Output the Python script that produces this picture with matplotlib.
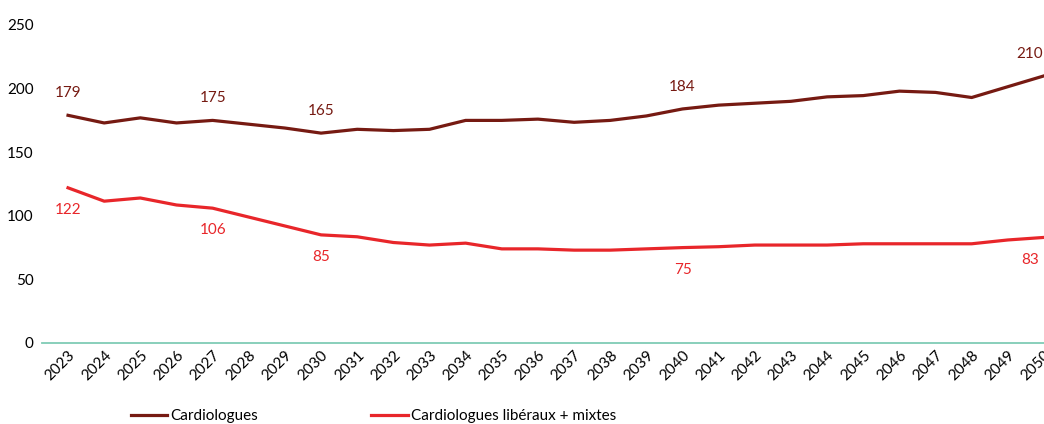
import matplotlib
matplotlib.use("Agg")
import matplotlib.pyplot as plt

years = list(range(2023, 2051))
cardiologues = [179, 173, 177, 173, 175, 172, 169, 165, 168, 167, 168, 175, 175, 176, 173.5, 175,
                178.5, 184, 187, 188.5, 190, 193.5, 194.5, 198, 197, 193, 201.5, 210]
liberaux = [122, 111.5, 114, 108.5, 106, 99, 92, 85, 83.5, 79, 77, 78.5, 74, 74, 73, 73,
            74, 75, 75.7, 77, 77, 77, 78, 78, 78, 78, 81, 83]
labeled_years = [2023, 2027, 2030, 2040, 2050]
yticks = [0, 50, 100, 150, 200, 250]

dark = "#761A12"
red = "#E8262A"
axis_col = "#7FCCB5"

plt.rcParams['font.family'] = ['Lato', 'DejaVu Sans']

W, H = 1044, 424
fig = plt.figure(figsize=(W / 100, H / 100), dpi=100)
left_px, right_px = 42, 1070
bottom_px, top_px = 343, 25
ax = fig.add_axes([left_px / W, 1 - bottom_px / H, (right_px - left_px) / W, (bottom_px - top_px) / H])
ax.set_xlim(2022.28, 2050.72)
ax.set_ylim(0, 250)

l1, = ax.plot(years, cardiologues, color=dark, lw=2.3, solid_joinstyle='round', clip_on=False)
l2, = ax.plot(years, liberaux, color=red, lw=2.3, solid_joinstyle='round', clip_on=False)

for y in labeled_years:
    i = years.index(y)
    dx = -10 if y == years[-1] else 0
    ax.annotate(f"{round(cardiologues[i])}", (y, cardiologues[i]), xytext=(dx, 16), textcoords='offset points',
                ha='center', va='center', color=dark, fontsize=11, annotation_clip=False)
    ax.annotate(f"{round(liberaux[i])}", (y, liberaux[i]), xytext=(dx, -16), textcoords='offset points',
                ha='center', va='center', color=red, fontsize=11, annotation_clip=False)

for s in ['top', 'right', 'left']:
    ax.spines[s].set_visible(False)
ax.spines['bottom'].set_color(axis_col)
ax.spines['bottom'].set_linewidth(1.3)

ax.set_yticks(yticks)
ax.set_yticklabels([str(v) for v in yticks], fontsize=11)
ax.tick_params(axis='y', length=0, pad=6)
ax.set_xticks(years)
ax.set_xticklabels([str(y) for y in years], rotation=45, ha='right', rotation_mode='anchor', fontsize=11)
ax.tick_params(axis='x', length=0, pad=4)

fig.legend([l1, l2], ["Cardiologues", "Cardiologues libéraux + mixtes"], loc='center left',
           bbox_to_anchor=(117 / W, 1 - 416 / H), ncol=2, frameon=False, fontsize=11,
           handlelength=2.4, handletextpad=0.2, columnspacing=7.4)

fig.savefig("out.png", dpi=100)
